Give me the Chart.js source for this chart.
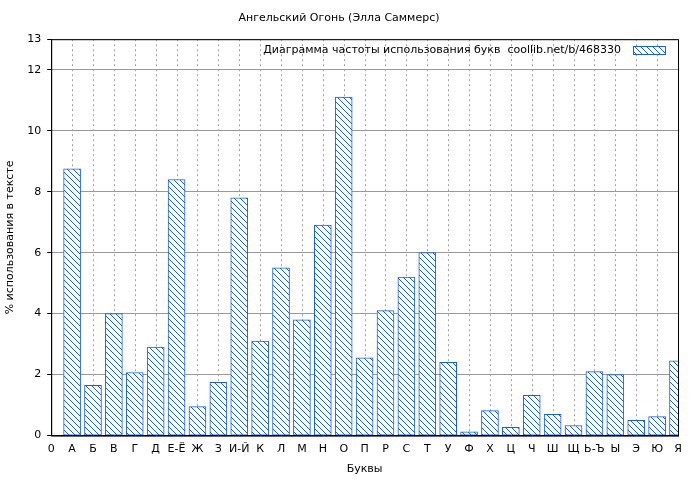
<!DOCTYPE html><html><head><meta charset="utf-8">
<script src="https://cdn.jsdelivr.net/npm/chart.js@4"></script>
<style>body{margin:0;background:#fff}#w{width:700px;height:480px}</style></head><body><div id="w"><canvas id="c"></canvas></div>
<script>
const labels=["0","А","Б","В","Г","Д","Е-Ё","Ж","З","И-Й","К","Л","М","Н","О","П","Р","С","Т","У","Ф","Х","Ц","Ч","Ш","Щ","Ь-Ъ","Ы","Э","Ю","Я"];
const values=[8.75,1.65,4.0,2.07,2.9,8.4,0.95,1.75,7.8,3.1,5.5,3.8,6.9,11.1,2.55,4.1,5.2,6.0,2.4,0.12,0.82,0.27,1.32,0.7,0.33,2.1,2.0,0.5,0.62,2.45];
const title="Ангельский Огонь (Элла Саммерс)";
const legendText="Диаграмма частоты использования букв  coollib.net/b/468330";
function hatch(){const p=document.createElement('canvas');p.width=6;p.height=6;const g=p.getContext('2d');g.fillStyle='#fff';g.fillRect(0,0,6,6);g.strokeStyle='#1a5fd0';g.lineWidth=1;g.beginPath();g.moveTo(0,0);g.lineTo(6,6);g.moveTo(-3,3);g.lineTo(3,9);g.moveTo(3,-3);g.lineTo(9,3);g.stroke();return g.createPattern(p,'repeat');}
const pat=hatch();
const F='"DejaVu Sans"';
const legendPlugin={id:'lg',afterDraw(ch){const a=ch.chartArea,c=ch.ctx;c.save();c.font='11px '+F;c.fillStyle='#000';c.textAlign='right';c.textBaseline='middle';c.fillText(legendText,a.right-57,50);c.fillStyle=pat;c.fillRect(a.right-45,46,32,8);c.strokeStyle='#1a5fd0';c.strokeRect(a.right-45+.5,46.5,32,8);c.strokeStyle='#000';c.lineWidth=1;c.strokeRect(a.left+.5,a.top+.5,a.right-a.left,a.bottom-a.top);c.restore();}};
new Chart(document.getElementById('c'),{type:'bar',
data:{datasets:[{data:values.map((v,i)=>({x:i+1,y:v})),backgroundColor:pat,borderColor:'#1a5fd0',borderWidth:1,barThickness:17,borderSkipped:false}]},
options:{responsive:true,maintainAspectRatio:false,animation:false,
layout:{padding:{left:0,right:22,top:0,bottom:0}},
plugins:{legend:{display:false},tooltip:{enabled:false},title:{display:true,text:title,font:{family:F,size:11,weight:'normal'},color:'#000',padding:{top:12,bottom:14}}},
scales:{x:{type:'linear',min:0,max:30,offset:false,ticks:{stepSize:1,autoSkip:false,maxRotation:0,color:'#000',font:{family:F,size:11},callback:v=>labels[v]},
grid:{color:'#999',drawTicks:true,tickLength:4,lineWidth:ctx=>0},border:{color:'#000'},
title:{display:true,text:'Буквы',color:'#000',font:{family:F,size:11},padding:{top:4}}},
y:{min:0,max:13,ticks:{stepSize:2,color:'#000',font:{family:F,size:11},padding:6},
grid:{color:'#999',tickLength:4,tickColor:'#000'},border:{color:'#000',dash:[]},
title:{display:true,text:'% использования в тексте',color:'#000',font:{family:F,size:11}}}}},
plugins:[legendPlugin,{id:'dash',beforeDatasetsDraw(ch){const a=ch.chartArea,c=ch.ctx,xs=ch.scales.x,ys=ch.scales.y;c.save();c.strokeStyle='#a0a0a0';c.setLineDash([2,3]);c.lineWidth=1;for(let i=1;i<30;i++){const x=Math.round(xs.getPixelForValue(i))+.5;c.beginPath();c.moveTo(x,a.top);c.lineTo(x,a.bottom);c.stroke();}c.restore();}},
{id:'ydash',beforeInit(ch){ch.options.scales.y.grid.borderDash=[2,3];}}]
});
</script></body></html>
